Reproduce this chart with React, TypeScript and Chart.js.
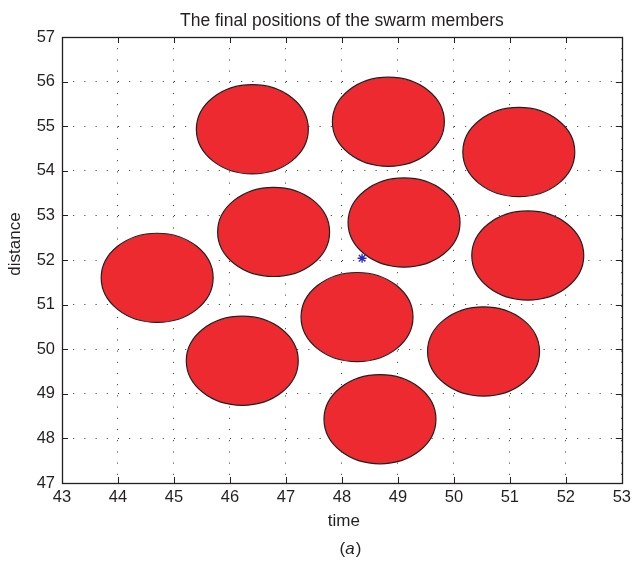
import { useEffect, useRef } from "react";
import { Chart, registerables } from "chart.js";

Chart.register(...registerables);

// Final positions of the swarm members (centres, in axis units)
const memberX = [46.4, 48.83, 51.16, 46.78, 49.11, 44.7, 51.32, 48.27, 46.22, 50.53, 48.68];
const memberY = [54.93, 55.1, 54.42, 52.63, 52.84, 51.6, 52.1, 50.72, 49.74, 49.95, 48.43];
// Body radius of each member, in axis units
const memberRadius = [1, 1, 1, 1, 1, 1, 1, 1, 1, 1, 1];

// Swarm centre marker
const centreX = [48.36];
const centreY = [52.04];

// Axis ranges and ticks
const xRange = [43, 53];
const yRange = [47, 57];
const tickStep = 1;

const TITLE = "The final positions of the swarm members";
const X_LABEL = "time";
const Y_LABEL = "distance";
const PANEL = "a";

const FONT = '"Liberation Sans", Arial, Helvetica, sans-serif';
const INK = "#231f20";
const RED = "#ec2a2f";

const swarmPlugin = {
  id: "swarmBodies",
  beforeDatasetsDraw(chart: any) {
    const { ctx, chartArea, scales } = chart;
    const xs = scales.x;
    const ys = scales.y;
    const pts = chart.data.datasets[0].data as { x: number; y: number; r: number }[];
    ctx.save();
    ctx.beginPath();
    ctx.rect(chartArea.left, chartArea.top, chartArea.right - chartArea.left, chartArea.bottom - chartArea.top);
    ctx.clip();
    pts.forEach((p) => {
      const cx = xs.getPixelForValue(p.x);
      const cy = ys.getPixelForValue(p.y);
      const rx = Math.abs(xs.getPixelForValue(p.x + p.r) - cx);
      const ry = Math.abs(ys.getPixelForValue(p.y + p.r) - cy);
      ctx.beginPath();
      ctx.ellipse(cx, cy, rx, ry, 0, 0, Math.PI * 2);
      ctx.fillStyle = RED;
      ctx.fill();
      ctx.lineWidth = 1.2;
      ctx.strokeStyle = INK;
      ctx.stroke();
    });
    ctx.restore();
  },
  afterDraw(chart: any) {
    const { ctx, chartArea, scales } = chart;
    const { left, right, top, bottom } = chartArea;
    const xs = scales.x;
    const ys = scales.y;
    const tick = 6;
    ctx.save();
    ctx.strokeStyle = INK;
    ctx.lineWidth = 1;
    ctx.beginPath();
    xs.ticks.forEach((t: any) => {
      const px = Math.round(xs.getPixelForValue(t.value)) + 0.5;
      ctx.moveTo(px, bottom);
      ctx.lineTo(px, bottom - tick);
      ctx.moveTo(px, top);
      ctx.lineTo(px, top + tick);
    });
    ys.ticks.forEach((t: any) => {
      const py = Math.round(ys.getPixelForValue(t.value)) + 0.5;
      ctx.moveTo(left, py);
      ctx.lineTo(left + tick, py);
      ctx.moveTo(right, py);
      ctx.lineTo(right - tick, py);
    });
    ctx.stroke();
    ctx.lineWidth = 1.3;
    ctx.strokeRect(Math.round(left) + 0.5, Math.round(top) + 0.5, Math.round(right - left), Math.round(bottom - top));

    const midX = (left + right) / 2;
    ctx.fillStyle = INK;
    ctx.textAlign = "center";
    ctx.textBaseline = "middle";
    ctx.font = `17.5px ${FONT}`;
    ctx.fillText(TITLE, midX, 21);
    ctx.font = `17px ${FONT}`;
    ctx.fillText(X_LABEL, midX + 2, 521);

    // panel tag "(a)" with italic letter
    const open = "(";
    const close = ")";
    ctx.font = `17px ${FONT}`;
    const wo = ctx.measureText(open).width;
    const wc = ctx.measureText(close).width;
    ctx.font = `italic 17px ${FONT}`;
    const wa = ctx.measureText(PANEL).width;
    let px = midX + 8 - (wo + wa + wc) / 2;
    ctx.textAlign = "left";
    ctx.font = `17px ${FONT}`;
    ctx.fillText(open, px, 549);
    px += wo;
    ctx.font = `italic 17px ${FONT}`;
    ctx.fillText(PANEL, px, 549);
    px += wa + 1;
    ctx.font = `17px ${FONT}`;
    ctx.fillText(close, px, 549);

    ctx.translate(15, 244);
    ctx.rotate(-Math.PI / 2);
    ctx.textAlign = "center";
    ctx.fillText(Y_LABEL, 0, 0);
    ctx.restore();
  },
};

export default function App() {
  const canvasRef = useRef<HTMLCanvasElement | null>(null);

  useEffect(() => {
    const canvas = canvasRef.current;
    if (!canvas) return;
    const members = memberX.map((x, i) => ({ x, y: memberY[i], r: memberRadius[i] }));
    const centre = centreX.map((x, i) => ({ x, y: centreY[i] }));

    const gridCfg = {
      color: "#2e2e2e",
      lineWidth: 1,
      drawTicks: false,
    };

    const chart = new Chart(canvas, {
      type: "scatter",
      data: {
        datasets: [
          {
            label: "members",
            data: members,
            pointRadius: 0,
            pointHoverRadius: 0,
            showLine: false,
          },
          {
            label: "centre",
            data: centre,
            pointStyle: "star",
            pointRadius: 4.5,
            borderColor: "#2a2ac8",
            backgroundColor: "#2a2ac8",
            borderWidth: 1.4,
          },
        ],
      },
      options: {
        animation: false,
        responsive: false,
        events: [],
        layout: { padding: { top: 37, right: 8, left: 0, bottom: 0 } },
        plugins: {
          legend: { display: false },
          tooltip: { enabled: false },
          title: { display: false },
        },
        scales: {
          x: {
            type: "linear",
            min: xRange[0],
            max: xRange[1],
            grid: gridCfg,
            border: { display: false, dash: [1, 10.2] },
            ticks: {
              stepSize: tickStep,
              padding: 5,
              color: INK,
              font: { family: FONT, size: 16.5 },
              maxRotation: 0,
            },
            afterFit(scale: any) {
              scale.height = 78;
            },
          },
          y: {
            type: "linear",
            min: yRange[0],
            max: yRange[1],
            grid: gridCfg,
            border: { display: false, dash: [1, 10.2] },
            ticks: {
              stepSize: tickStep,
              padding: 7,
              color: INK,
              font: { family: FONT, size: 16.5 },
            },
            afterFit(scale: any) {
              scale.width = 62;
            },
          },
        },
      },
      plugins: [swarmPlugin],
    } as any);

    return () => chart.destroy();
  }, []);

  return (
    <div style={{ position: "fixed", left: 0, top: 0, width: 636, height: 561, background: "#fff" }}>
      <canvas ref={canvasRef} width={636} height={561} style={{ width: 636, height: 561, display: "block" }} />
    </div>
  );
}
